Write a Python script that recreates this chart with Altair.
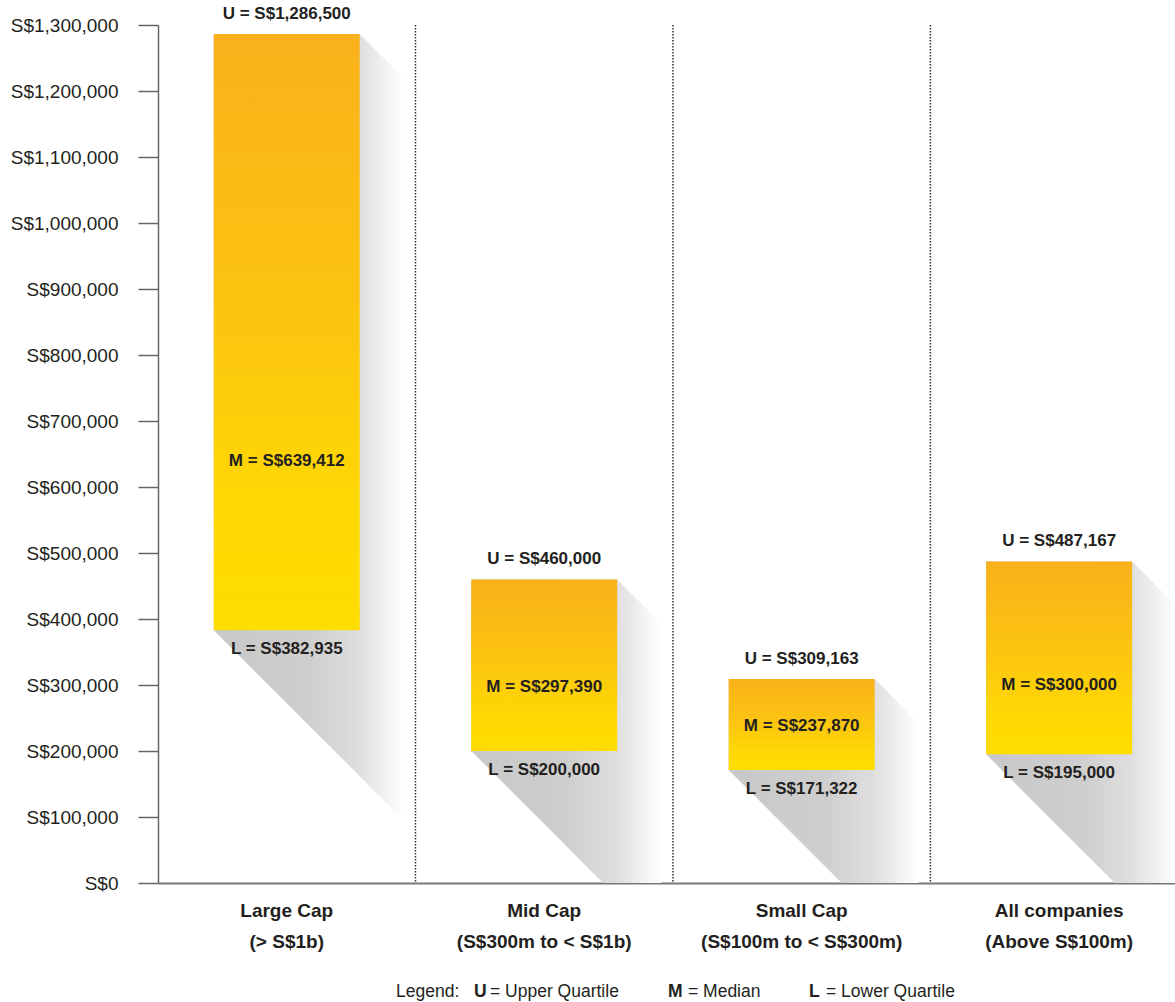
import altair as alt
import pandas as pd

# ---- data ----
categories = ["Large Cap", "Mid Cap", "Small Cap", "All companies"]
subtitles = ["(> S$1b)", "(S$300m to < S$1b)", "(S$100m to < S$300m)", "(Above S$100m)"]
upper = [1286500, 460000, 309163, 487167]
median = [639412, 297390, 237870, 300000]
lower = [382935, 200000, 171322, 195000]
y_ticks = list(range(0, 1300001, 100000))

# ---- layout constants ----
W, H = 1017, 858
XMAX = 3.95
YMAX = 1300000
PX_X = W / XMAX
K = YMAX / H
BAR_W = 0.567
SHADOW = 44

FONT_B = "Liberation Sans Narrow, Arial Narrow, Liberation Sans, Arial"
TXT = "#231f20"

pos = [i + 0.5 for i in range(len(categories))]
bars = pd.DataFrame({
    "name": categories,
    "sub": subtitles,
    "pos": pos,
    "x0": [p - BAR_W / 2 for p in pos],
    "x1": [p + BAR_W / 2 for p in pos],
    "U": upper,
    "M": median,
    "L": lower,
})
bars["ulab"] = ["U = S$" + f"{v:,}" for v in upper]
bars["mlab"] = ["M = S$" + f"{v:,}" for v in median]
bars["llab"] = ["L = S$" + f"{v:,}" for v in lower]

# long 45-degree shadow derived from each bar
rows = []
for name, x0, U, L in zip(categories, bars["x0"], upper, lower):
    w = BAR_W * PX_X
    offs = {0.0, w, w + SHADOW}
    z = L / K
    if 0 < z < w + SHADOW:
        offs.add(z)
    for o in sorted(offs):
        hi = U if o <= w else U - (o - w) * K
        lo = max(0.0, L - o * K)
        rows.append({"name": name, "x": x0 + o / PX_X, "hi": hi, "lo": lo})
shadow = pd.DataFrame(rows)

dividers = pd.DataFrame({"x": [1, 2, 3]})

xs = alt.Scale(domain=[0, XMAX], nice=False, zero=False)
ys = alt.Scale(domain=[0, YMAX], nice=False)

shadow_fill = alt.Gradient(
    gradient="linear", x1=0, x2=1, y1=0, y2=0,
    stops=[alt.GradientStop(color="#c8c8c8", offset=0),
           alt.GradientStop(color="#cecece", offset=0.5),
           alt.GradientStop(color="#dedede", offset=0.76),
           alt.GradientStop(color="#ffffff", offset=1)])
bar_fill = alt.Gradient(
    gradient="linear", x1=0, x2=0, y1=0, y2=1,
    stops=[alt.GradientStop(color="#f9b11b", offset=0),
           alt.GradientStop(color="#fcc60f", offset=0.5),
           alt.GradientStop(color="#fed903", offset=0.8),
           alt.GradientStop(color="#ffdd00", offset=1)])

rule_layer = alt.Chart(dividers).mark_rule(
    color="#333333", strokeWidth=1.5, strokeDash=[1.5, 1.5]
).encode(
    x=alt.X("x:Q", scale=xs),
    y=alt.datum(YMAX, scale=ys), y2=alt.datum(0),
)

shadow_layer = alt.Chart(shadow).mark_area(color=shadow_fill).encode(
    x=alt.X("x:Q", scale=xs),
    y=alt.Y("hi:Q", scale=ys),
    y2="lo:Q",
    detail="name:N",
)

bar_layer = alt.Chart(bars).mark_rect(color=bar_fill).encode(
    x=alt.X("x0:Q", scale=xs,
            axis=alt.Axis(labels=False, ticks=False, title=None,
                          domainColor="#777777", domainWidth=2)),
    x2="x1:Q",
    y=alt.Y("U:Q", scale=ys,
            axis=alt.Axis(values=y_ticks, title=None,
                          labelExpr="'S$' + format(datum.value, ',')",
                          tickSize=20, labelPadding=20,
                          labelFont=FONT_B,
                          labelFontSize=19, labelColor=TXT,
                          domainColor="#666666", tickColor="#666666",
                          domainWidth=1.5, tickWidth=1.5)),
    y2="L:Q",
)

def vtext(field, yfield, dy):
    return alt.Chart(bars).mark_text(
        font=FONT_B, fontWeight="bold", fontSize=17, color=TXT,
        align="center", baseline="middle", dy=dy
    ).encode(x=alt.X("pos:Q", scale=xs), y=alt.Y(f"{yfield}:Q", scale=ys), text=f"{field}:N")

u_text = vtext("ulab", "U", -20)
m_text = vtext("mlab", "M", 0)
l_text = vtext("llab", "L", 19)

cat1 = alt.Chart(bars).mark_text(
    font=FONT_B, fontWeight="bold", fontSize=19, color=TXT, baseline="middle"
).encode(x=alt.X("pos:Q", scale=xs), y=alt.value(H + 28), text="name:N")
cat2 = alt.Chart(bars).mark_text(
    font=FONT_B, fontWeight="bold", fontSize=19, color=TXT, baseline="middle"
).encode(x=alt.X("pos:Q", scale=xs), y=alt.value(H + 59), text="sub:N")

legend_bits = [
    ("Legend:", 238, "normal"),
    ("U", 316, "bold"),
    ("= Upper Quartile", 332, "normal"),
    ("M", 510, "bold"),
    ("= Median", 530, "normal"),
    ("L", 651, "bold"),
    ("= Lower Quartile", 668, "normal"),
]
legend_layers = [
    alt.Chart(pd.DataFrame({"t": [t]})).mark_text(
        font=FONT_B, fontWeight=fw, fontSize=17.5, color=TXT,
        align="left", baseline="middle"
    ).encode(x=alt.value(xp), y=alt.value(H + 109), text="t:N")
    for t, xp, fw in legend_bits
]

chart = alt.layer(
    rule_layer, shadow_layer, bar_layer, u_text, m_text, l_text, cat1, cat2, *legend_layers
).properties(
    width=W, height=H,
    autosize=alt.AutoSizeParams(type="none"),
    padding={"left": 158, "top": 25, "right": 0, "bottom": 119},
    background="white",
).configure_view(stroke=None).configure_axis(grid=False)

chart.save("out.html", embed_options={"renderer": "svg", "actions": False})
